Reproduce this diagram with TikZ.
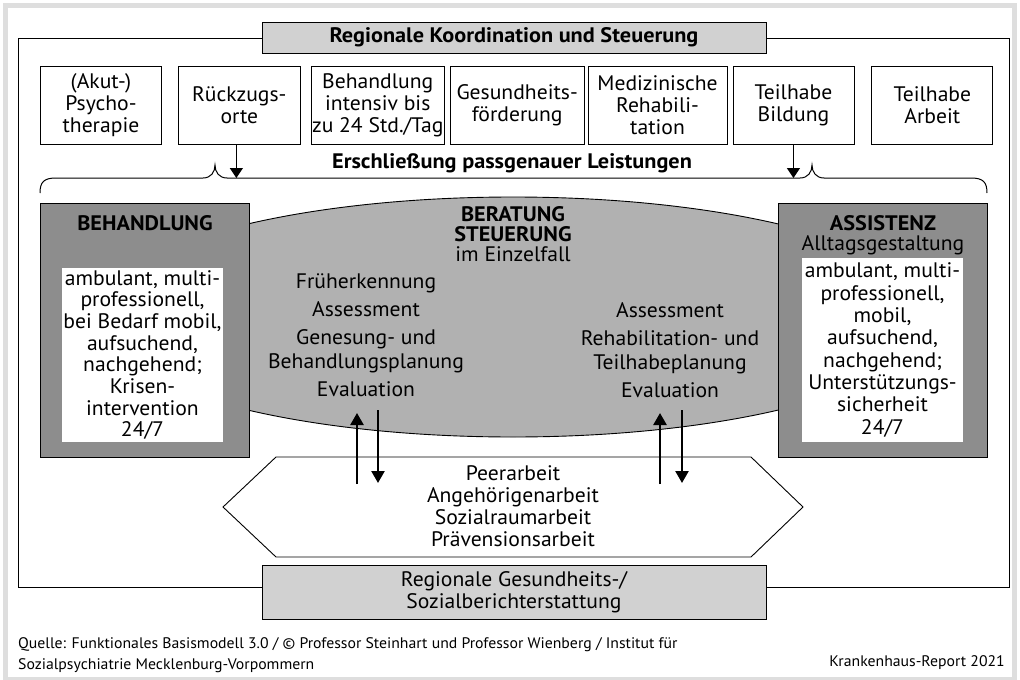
\documentclass[tikz,border=0pt]{standalone}
\usepackage{fontspec}
\setmainfont{PT Sans}[FakeStretch=1.03, BoldFeatures={FakeStretch=1.06}]
\usepackage{tikz}
\usetikzlibrary{arrows.meta, positioning, shapes.geometric}

\definecolor{lightgrey}{HTML}{D1D1D1}
\definecolor{midgrey}{HTML}{B1B1B1}
\definecolor{darkgrey}{HTML}{8D8D8D}
\definecolor{pagegrey}{HTML}{DEDEDE}

\begin{document}
\begin{tikzpicture}[
	x=1pt, y=-1pt,
	every node/.style={align=center, inner sep=0pt, font=\fontsize{21}{22}\selectfont},
	heading/.style={font=\fontsize{21}{20}\selectfont\bfseries},
	list_text/.style={font=\fontsize{21}{24}\selectfont},
	small_text/.style={font=\fontsize{15.3}{21}\selectfont},
	service_box/.style={draw, line width=0.9pt, minimum height=78pt},
	banner_box/.style={draw, line width=0.9pt, fill=lightgrey, minimum width=504pt},
	main_box/.style={draw, line width=1pt, fill=darkgrey, minimum width=209pt, minimum height=254pt},
	inner_box/.style={fill=white, minimum width=161pt},
	arrow/.style={-{Triangle[width=13pt, length=10pt]}, line width=1.2pt},
	big_arrow/.style={-{Triangle[width=13pt, length=12pt]}, line width=2.4pt}
	]
	
	\useasboundingbox (0,0) rectangle (1020,680);
	\draw[pagegrey, line width=5pt] (5.5,5.5) rectangle (1014.5,679.5);
	\draw[line width=0.9pt] (18,38) rectangle (1009,587);
	
	% --- KOORDINATION UND LEISTUNGEN ---
	\node[banner_box, minimum height=31pt, heading] (RK) at (514,37.5) {Regionale Koordination und Steuerung};
	
	\node[service_box, minimum width=121pt, anchor=north west] (P1) at (40,66) {(Akut-)\\Psycho-\\therapie};
	\node[service_box, minimum width=122pt, right=16pt of P1] (P2) {Rückzugs-\\orte};
	\node[service_box, minimum width=133pt, right=10pt of P2] (P3) {Behandlung\\intensiv bis\\zu 24 Std./Tag};
	\node[service_box, minimum width=134pt, right=5pt of P3] (P4) {Gesundheits-\\förderung};
	\node[service_box, minimum width=139pt, right=3pt of P4] (P5) {Medizinische\\Rehabili-\\tation};
	\node[service_box, minimum width=121pt, right=5pt of P5] (P6) {Teilhabe\\Bildung};
	\node[service_box, minimum width=121pt, right=17pt of P6] (P7) {Teilhabe\\Arbeit};
	
	\node[heading] (EL) at (512,163) {Erschließung passgenauer Leistungen};
	\coordinate (brace) at (512,178);
	\draw[line width=1pt] (40,193) .. controls (40,182) and (44,178) .. (56,178) -- (203,178)
		.. controls (211,178) and (215,172) .. (215,165) .. controls (215,172) and (219,178) .. (227,178)
		-- (800,178) .. controls (808,178) and (812,172) .. (812,165) .. controls (812,172) and (816,178) .. (824,178)
		-- (971,178) .. controls (983,178) and (987,182) .. (987,193);
	\draw[arrow] ([xshift=-3pt]P2.south) -- ([xshift=-3pt]P2.south |- brace);
	\draw[arrow] (P6.south) -- (P6.south |- brace);
	
	% --- BERATUNG, BEHANDLUNG, ASSISTENZ ---
	\node[ellipse, draw, line width=0.9pt, fill=midgrey, minimum width=840pt, minimum height=240pt] (BS) at (513,317) {};
	\node[anchor=north, font=\fontsize{21}{20}\selectfont] (BST) at (513,206) {\textbf{BERATUNG}\\\textbf{STEUERUNG}\\im Einzelfall};
	\node[list_text, anchor=north] (BL) at (366,274) {Früherkennung\\[4pt]Assessment\\[4pt]Genesung- und\\Behandlungsplanung\\[4pt]Evaluation};
	\node[list_text, anchor=north] (BR) at (670,302) {Assessment\\[4pt]Rehabilitation- und\\Teilhabeplanung\\[4pt]Evaluation};
	
	\node[main_box, anchor=north west] (BH) at (40,203) {};
	\node[heading, below=12pt of BH.north] (BHT) {BEHANDLUNG};
	\node[inner_box, minimum height=174pt, font=\fontsize{21}{21.7}\selectfont] (BHI) at (142.5,355)
		{ambulant, multi-\\professionell,\\bei Bedarf mobil,\\aufsuchend,\\nachgehend;\\Krisen-\\intervention\\24/7};
	
	\node[main_box, anchor=north west] (AS) at (778,203) {};
	\node[anchor=north, font=\fontsize{21}{20}\selectfont] (AST) at ([yshift=-12pt]AS.north) {\textbf{ASSISTENZ}\\Alltagsgestaltung};
	\node[inner_box, minimum height=184pt, font=\fontsize{21}{22.3}\selectfont] (ASI) at (882.5,350)
		{ambulant, multi-\\professionell,\\mobil,\\aufsuchend,\\nachgehend;\\Unterstützungs-\\sicherheit\\24/7};
	
	% --- PEERARBEIT ---
	\draw[line width=0.9pt] (223,507) -- (276,457) -- (751,457) -- (803,507) -- (751,557) -- (276,557) -- cycle;
	\node[font=\fontsize{21}{22}\selectfont] (PA) at (513,506) {Peerarbeit\\Angehörigenarbeit\\Sozialraumarbeit\\Prävensionsarbeit};
	
	\coordinate (L1) at (357,484);
	\coordinate (L2) at (378,410);
	\coordinate (R1) at (660,484);
	\coordinate (R2) at (682,410);
	\draw[big_arrow] (L1) -- ++(0,-71);
	\draw[big_arrow] (L2) -- ++(0,73);
	\draw[big_arrow] (R1) -- ++(0,-71);
	\draw[big_arrow] (R2) -- ++(0,73);
	
	\node[banner_box, minimum height=54pt, font=\fontsize{21}{21.5}\selectfont] (RG) at (514,592) {Regionale Gesundheits-/\\Sozialberichterstattung};
	
	% --- QUELLE ---
	\node[small_text, align=left, anchor=north west] (Q) at (18,637) {Quelle: Funktionales Basismodell 3.0 / © Professor Steinhart und Professor Wienberg / Institut für\\Sozialpsychiatrie Mecklenburg-Vorpommern};
	\node[small_text, anchor=base east] (KR) at (1005,666) {Krankenhaus-Report 2021};
	
\end{tikzpicture}
\end{document}
